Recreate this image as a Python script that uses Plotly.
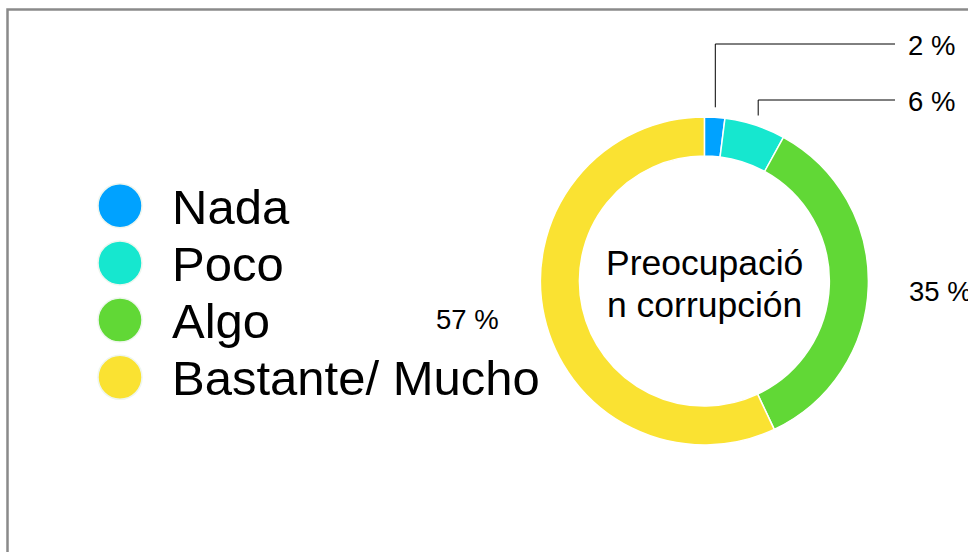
import math
import plotly.graph_objects as go

# ---- data ----
categories = ["Nada", "Poco", "Algo", "Bastante/ Mucho"]
values = [2, 6, 35, 57]
colors = ["#00A2FF", "#16E7CF", "#61D836", "#FAE232"]
center_lines = ["Preocupació", "n corrupción"]

# ---- layout (pixel-based helpers) ----
W, H = 968, 552
CX, CY, R = 704.4, 281.0, 164.0
HOLE = 0.762
FONT = "Liberation Sans, Arimo, Helvetica, Arial, sans-serif"

fig = go.Figure()

fig.add_trace(go.Pie(
    labels=categories, values=values, sort=False, direction="clockwise", rotation=0,
    hole=HOLE, textinfo="none", showlegend=False, hoverinfo="label+percent",
    marker=dict(colors=colors, line=dict(color="white", width=1.5)),
    domain=dict(x=[(CX - R) / W, (CX + R) / W], y=[(H - CY - R) / H, (H - CY + R) / H]),
))

# legend drawn as a scatter of circles + text
leg_x = 120
leg_y0, leg_dy = 205.7, 57.2
leg_y = [leg_y0 + i * leg_dy for i in range(len(categories))]
fig.add_trace(go.Scatter(
    x=[leg_x] * len(categories), y=leg_y, mode="markers", showlegend=False, hoverinfo="skip",
    marker=dict(size=44, color=colors, line=dict(color="#eef6ee", width=1.5)),
    xaxis="x", yaxis="y",
))

annotations = []
for cat, y in zip(categories, leg_y):
    annotations.append(dict(x=170, y=y + 1, xref="x", yref="y", text=cat, showarrow=False,
                            xanchor="left", yanchor="middle",
                            font=dict(family=FONT, size=49, color="#000000")))

# center text
for i, line in enumerate(center_lines):
    annotations.append(dict(x=CX + 0.5, y=263 + i * 42, xref="x", yref="y", text=line, showarrow=False,
                            xanchor="center", yanchor="middle",
                            font=dict(family=FONT, size=35.5, color="#000000")))

# slice labels
LBL = 27.5
shapes = []
total = sum(values)
cum = 0
small_label_y = {0: 44, 1: 100}
for i, v in enumerate(values):
    mid = (cum + v / 2) / total * 2 * math.pi
    cum += v
    txt = f"{v} %"
    if i in small_label_y:
        sx = CX + 174 * math.sin(mid)
        sy = CY - 174 * math.cos(mid)
        ly = small_label_y[i]
        shapes.append(dict(type="path", xref="x", yref="y",
                           path=f"M {sx:.1f} {sy:.1f} L {sx:.1f} {ly} L 895 {ly}",
                           line=dict(color="#000000", width=1)))
        annotations.append(dict(x=906, y=ly + 1, xref="x", yref="y", text=txt, showarrow=False,
                                xanchor="left", yanchor="middle",
                                font=dict(family=FONT, size=LBL, color="#000000")))
    elif i == 2:
        annotations.append(dict(x=CX + 203 * math.sin(mid), y=CY - 203 * math.cos(mid) + 4,
                                xref="x", yref="y", text=txt, showarrow=False,
                                xanchor="left", yanchor="middle",
                                font=dict(family=FONT, size=LBL, color="#000000")))
    else:
        annotations.append(dict(x=CX + 243 * math.sin(mid), y=CY - 243 * math.cos(mid) - 15,
                                xref="x", yref="y", text=txt, showarrow=False,
                                xanchor="center", yanchor="middle",
                                font=dict(family=FONT, size=LBL, color="#000000")))

# frame
shapes.append(dict(type="rect", xref="x", yref="y", x0=7.5, y0=9.5, x1=1000, y1=600,
                   line=dict(color="#8a8a8a", width=2.5), fillcolor="rgba(0,0,0,0)", layer="below"))

fig.update_layout(
    width=W, height=H, margin=dict(l=0, r=0, t=0, b=0),
    paper_bgcolor="white", plot_bgcolor="rgba(0,0,0,0)",
    xaxis=dict(range=[0, W], visible=False, fixedrange=True, domain=[0, 1]),
    yaxis=dict(range=[H, 0], visible=False, fixedrange=True, domain=[0, 1]),
    shapes=shapes, annotations=annotations, showlegend=False,
)

fig.write_html("out.html", config={"displayModeBar": False},
               post_script="document.body.style.margin='0';document.body.style.overflow='hidden';")
